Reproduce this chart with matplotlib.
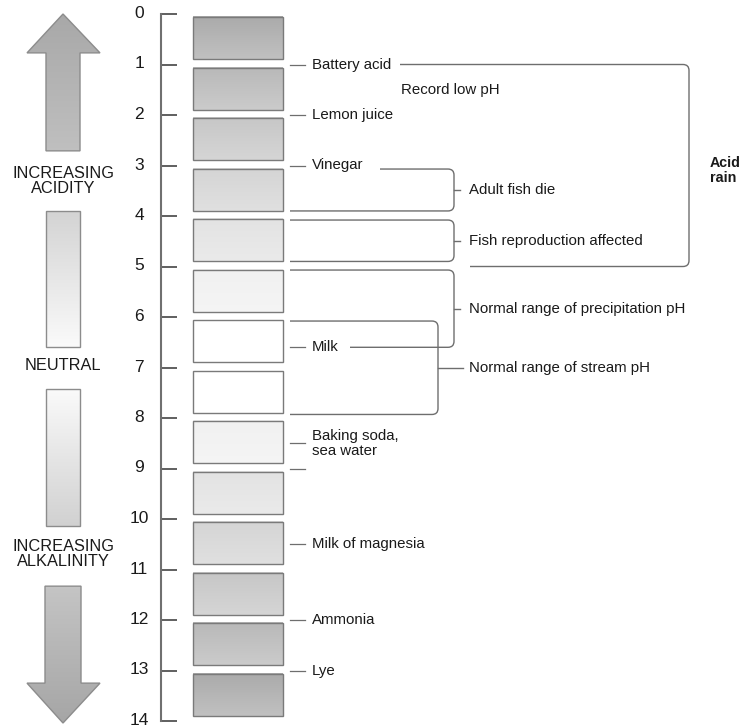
import numpy as np
import matplotlib.pyplot as plt
import matplotlib.transforms as mtransforms
from matplotlib.patches import Polygon, Rectangle, PathPatch
from matplotlib.path import Path

# pH scale
ph_ticks = list(range(0, 15))

# substances marked on the scale
substance_names = ["Battery acid", "Lemon juice", "Vinegar", "Milk",
                   "Baking soda,\nsea water", "", "Milk of magnesia", "Ammonia", "Lye"]
substance_ph = [1, 2, 3, 6.6, 8.5, 9, 10.5, 12, 13]

# ranges shown with brackets
range_names = ["Adult fish die", "Fish reproduction affected",
               "Normal range of precipitation pH", "Normal range of stream pH"]
range_lo = [3, 4, 5, 6]
range_hi = [4, 5, 6.6, 8]
acid_rain = (1, 5)
record_low_ph = 1.5

TEXT = "#1a1a1a"
LINE = "#6e6e6e"
FONT = ["Liberation Sans", "DejaVu Sans"]
plt.rcParams["font.family"] = FONT

W, H = 746, 727
fig = plt.figure(figsize=(W / 100, H / 100), dpi=100)
ax = fig.add_axes([0, 0, 1, 1])
y_top, y_bot = -14 / 50.5, (H - 14) / 50.5
ppu = H / (y_bot - y_top)  # pixels per pH unit


def gradient(x0, x1, y0, y1, c0, c1, clip=None):
    t = np.linspace(0, 1, 64)[:, None, None]
    img = (1 - t) * np.array(c0)[None, None, :] + t * np.array(c1)[None, None, :]
    im = ax.imshow(img, extent=(x0, x1, y1, y0), origin="upper",
                   aspect="auto", interpolation="bilinear", zorder=1)
    if clip is not None:
        im.set_clip_path(clip)


def gray(v):
    return (v, v, v)


# scale boxes
for p in ph_ticks[:-1]:
    d = abs(p + 0.5 - 7)
    lv = min(1.0, 1 - 0.048 * (d - 0.5))
    b0, b1 = p + 0.06, p + 0.9
    gradient(193, 283, b0, b1, gray(lv - 0.15 * (1 - lv)), gray(min(1, lv + 0.15 * (1 - lv))))
    ax.add_patch(Rectangle((193, b0), 90, b1 - b0, fill=False,
                           edgecolor="#7a7a7a", lw=1, zorder=2))

# axis with ticks
ax.spines[["top", "right", "bottom"]].set_visible(False)
ax.spines["left"].set_position(("data", 161))
ax.spines["left"].set_bounds(0, 14)
ax.spines["left"].set_color("#707070")
ax.spines["left"].set_linewidth(1.5)
ax.set_yticks(ph_ticks)
ax.set_yticklabels([str(v) for v in ph_ticks])
ax.tick_params(axis="y", direction="in", length=11.5, width=1.2,
               color="#444444", pad=15.8, labelsize=12.5, labelcolor=TEXT)
lift = mtransforms.ScaledTranslation(0, 2 / 100, fig.dpi_scale_trans)
for lab in ax.get_yticklabels():
    lab.set_horizontalalignment("center")
    lab.set_transform(lab.get_transform() + lift)
ax.set_xticks([])

# substance labels
for name, p in zip(substance_names, substance_ph):
    ax.plot([290, 305], [p, p], color=LINE, lw=0.9, zorder=3)
    if name:
        ax.text(312, p, name, ha="left", va="center", fontsize=10.8,
                color=TEXT, linespacing=1.05)


def bracket(top, bot, x_tl, x_bl, x_r, r=6):
    ry = r / ppu
    verts = [(x_tl, top), (x_r - r, top), (x_r, top), (x_r, top + ry),
             (x_r, bot - ry), (x_r, bot), (x_r - r, bot), (x_bl, bot)]
    codes = [Path.MOVETO, Path.LINETO, Path.CURVE3, Path.CURVE3,
             Path.LINETO, Path.CURVE3, Path.CURVE3, Path.LINETO]
    ax.add_patch(PathPatch(Path(verts, codes), fill=False,
                           edgecolor=LINE, lw=1, zorder=3))


# bracket layout: (top inset, bottom inset, top-left x, bottom-left x, right x, tick end)
layout = [(0.07, -0.1, 380, 290, 454, 460),
          (0.08, -0.1, 290, 290, 454, 460),
          (0.07, 0.0, 290, 350, 454, 460),
          (0.08, -0.07, 290, 290, 438, 463)]
for name, lo, hi, (it, ib, xtl, xbl, xr, xt) in zip(range_names, range_lo, range_hi, layout):
    top, bot = lo + it, hi + ib
    bracket(top, bot, xtl, xbl, xr)
    mid = (top + bot) / 2
    ax.plot([xr, xt], [mid, mid], color=LINE, lw=1, zorder=3)
    ax.text(469, mid, name, ha="left", va="center", fontsize=10.8, color=TEXT)

# acid rain bracket
bracket(acid_rain[0], acid_rain[1], 400, 470, 689)
ax.text(710, (acid_rain[0] + acid_rain[1]) / 2 + 0.1, "Acid\nrain", ha="left",
        va="center", fontsize=10.3, fontweight="bold", color=TEXT, linespacing=1.05)
ax.text(401, record_low_ph, "Record low pH", ha="left", va="center",
        fontsize=10.8, color=TEXT)

# left-hand arrows
up = Polygon([(63, 0.0), (100, 0.77), (80, 0.77), (80, 2.71), (46, 2.71),
              (46, 0.77), (27, 0.77)], closed=True, fc="none", ec="#8c8c8c", lw=1, zorder=2)
ax.add_patch(up)
gradient(27, 100, 0.0, 2.71, gray(0.66), gray(0.75), clip=up)

down = Polygon([(63, 14.04), (100, 13.25), (81, 13.25), (81, 11.33), (45, 11.33),
                (45, 13.25), (27, 13.25)], closed=True, fc="none", ec="#8c8c8c", lw=1, zorder=2)
ax.add_patch(down)
gradient(27, 100, 11.33, 14.04, gray(0.77), gray(0.65), clip=down)

gradient(46, 80, 3.9, 6.59, gray(0.83), gray(0.98))
ax.add_patch(Rectangle((46, 3.9), 34, 2.69, fill=False, ec="#8c8c8c", lw=1, zorder=2))
gradient(46, 80, 7.43, 10.14, gray(0.98), gray(0.82))
ax.add_patch(Rectangle((46, 7.43), 34, 2.71, fill=False, ec="#8c8c8c", lw=1, zorder=2))

ax.text(63, 3.31, "INCREASING\nACIDITY", ha="center", va="center",
        fontsize=11.8, color=TEXT, linespacing=1.0)
ax.text(63, 6.97, "NEUTRAL", ha="center", va="center", fontsize=11.8, color=TEXT)
ax.text(63, 10.7, "INCREASING\nALKALINITY", ha="center", va="center",
        fontsize=11.8, color=TEXT, linespacing=1.0)

ax.set_xlim(0, W)
ax.set_ylim(y_bot, y_top)
fig.savefig("out.png", dpi=100, facecolor="white")
